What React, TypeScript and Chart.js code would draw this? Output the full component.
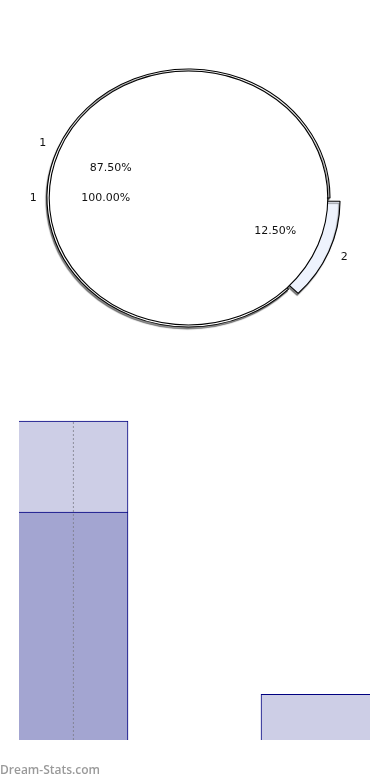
import React, { useEffect, useRef } from "react";
import { Chart, registerables } from "chart.js";

Chart.register(...registerables);

// ---- data ----
const outerLabels = ["1", "2"];
const outerValues = [7, 1];
const outerColors = ["#FFFFFF", "#EEF3FD"];
const innerLabels = ["1"];
const innerValues = [1];
const innerColors = ["#FFFFFF"];

const barPositions = [1, 2];
const darkValues = [5, 0];
const lightValues = [2, 1];
const guidePosition = 1.155;
const guideRange = [0, 7];

const OUTER_RADIUS = 129;
const INNER_RADIUS = 127;
const ELLIPSE_SX = 141.5 / 129;

function pct(v: number, all: number[]) {
  const t = all.reduce((a, b) => a + b, 0);
  return ((v / t) * 100).toFixed(2) + "%";
}

function stretchBegin(chart: any, shadow: boolean) {
  const ctx = chart.ctx;
  const a = chart.chartArea;
  const cx = (a.left + a.right) / 2;
  ctx.save();
  ctx.translate(cx, 0);
  ctx.scale(ELLIPSE_SX, 1);
  ctx.translate(-cx, 0);
  if (shadow) {
    ctx.shadowColor = "rgba(0,0,0,0.45)";
    ctx.shadowOffsetX = -1;
    ctx.shadowOffsetY = 2;
    ctx.shadowBlur = 1;
  }
}

function drawPieLabels(ctx: CanvasRenderingContext2D, chart: any, labels: string[], values: number[]) {
  const meta = chart.getDatasetMeta(0);
  meta.data.forEach((arc: any, i: number) => {
    const span = Math.min(arc.endAngle - arc.startAngle, 2 * Math.PI);
    const mid = arc.startAngle + span / 2;
    const shift = (arc.options.offset || 0) / 4;
    const radiusOffset = shift * (1 - Math.sin(Math.min(Math.PI, span)));
    const R = arc.outerRadius + radiusOffset;
    const dIn = 0.595 * R + shift;
    const dOut = 1.115 * R + shift;
    const c = Math.cos(mid);
    const s = Math.sin(mid);
    ctx.fillText(pct(values[i], values), arc.x + ELLIPSE_SX * c * dIn, arc.y + s * dIn);
    ctx.fillText(labels[i], arc.x + ELLIPSE_SX * c * dOut, arc.y + s * dOut);
  });
}

export default function App() {
  const pieBackRef = useRef<HTMLCanvasElement>(null);
  const pieFrontRef = useRef<HTMLCanvasElement>(null);
  const barRef = useRef<HTMLCanvasElement>(null);

  useEffect(() => {
    document.body.style.margin = "0";
    const layoutPadding = { left: 0, right: 13, top: 0, bottom: 4 };

    const back = new Chart(pieBackRef.current!, {
      type: "pie",
      data: {
        labels: outerLabels,
        datasets: [
          {
            data: outerValues,
            backgroundColor: outerColors,
            borderColor: "#000000",
            borderWidth: 1,
            offset: [0, 30],
            rotation: 135,
          },
        ],
      },
      options: {
        animation: false,
        responsive: true,
        maintainAspectRatio: false,
        radius: OUTER_RADIUS,
        layout: { padding: layoutPadding },
        plugins: { legend: { display: false }, tooltip: { enabled: false } },
        events: [],
      },
      plugins: [
        {
          id: "stretchBack",
          beforeDatasetsDraw(chart: any) {
            stretchBegin(chart, true);
          },
          afterDatasetsDraw(chart: any) {
            chart.ctx.restore();
          },
        },
      ],
    } as any);

    // a single full slice: dash the border so only its rim (not the radius seam) is stroked
    const rimLength = 2 * Math.PI * INNER_RADIUS + 0.5;

    const front = new Chart(pieFrontRef.current!, {
      type: "pie",
      data: {
        labels: innerLabels,
        datasets: [
          {
            data: innerValues,
            backgroundColor: innerColors,
            borderColor: "#000000",
            borderWidth: 1,
            borderDash: [rimLength, 5000],
            rotation: 90,
          },
        ],
      },
      options: {
        animation: false,
        responsive: true,
        maintainAspectRatio: false,
        radius: INNER_RADIUS,
        layout: { padding: layoutPadding },
        plugins: { legend: { display: false }, tooltip: { enabled: false } },
        events: [],
      },
      plugins: [
        {
          id: "stretchFront",
          beforeDatasetsDraw(chart: any) {
            stretchBegin(chart, false);
          },
          afterDatasetsDraw(chart: any) {
            chart.ctx.restore();
          },
          afterDraw(chart: any) {
            const ctx = chart.ctx;
            ctx.save();
            ctx.font = "11px 'DejaVu Sans'";
            ctx.fillStyle = "#111111";
            ctx.textAlign = "center";
            ctx.textBaseline = "middle";
            drawPieLabels(ctx, back, outerLabels, outerValues);
            drawPieLabels(ctx, chart, innerLabels, innerValues);
            ctx.restore();
          },
        },
      ],
    } as any);

    const toPoints = (vals: number[]) =>
      vals.map((v, i) => ({ x: barPositions[i], y: v === 0 ? null : v }));

    const bars = new Chart(barRef.current!, {
      type: "bar",
      data: {
        datasets: [
          {
            type: "line",
            data: guideRange.map((y) => ({ x: guidePosition, y })),
            borderColor: "rgba(120,120,130,0.75)",
            borderWidth: 1,
            borderDash: [2, 2],
            pointRadius: 0,
            stack: "guide",
            order: 0,
            clip: 0,
          },
          {
            data: toPoints(darkValues),
            backgroundColor: "#A3A5D1",
            borderColor: "#000080",
            borderWidth: 1,
            barThickness: 218,
            stack: "s",
            order: 1,
            clip: { left: 0, right: 0, top: 5, bottom: 0 },
          },
          {
            data: toPoints(lightValues),
            backgroundColor: "#CDCEE6",
            borderColor: "#000080",
            borderWidth: 1,
            barThickness: 218,
            stack: "s",
            order: 1,
            clip: { left: 0, right: 0, top: 5, bottom: 0 },
          },
        ],
      },
      options: {
        animation: false,
        responsive: true,
        maintainAspectRatio: false,
        layout: { padding: { left: 19, right: 20, top: 21, bottom: 20 } },
        scales: {
          x: { type: "linear", min: 1, max: 2, offset: false, display: false, stacked: true },
          y: { min: 0, max: 7, display: false, stacked: true },
        },
        plugins: { legend: { display: false }, tooltip: { enabled: false } },
        events: [],
      },
    } as any);

    return () => {
      front.destroy();
      back.destroy();
      bars.destroy();
    };
  }, []);

  return (
    <div style={{ position: "relative", width: 390, height: 780, background: "#fff", overflow: "hidden" }}>
      <div style={{ position: "absolute", left: 0, top: 0, width: 390, height: 400 }}>
        <canvas ref={pieBackRef} />
      </div>
      <div style={{ position: "absolute", left: 0, top: 0, width: 390, height: 400 }}>
        <canvas ref={pieFrontRef} />
      </div>
      <div style={{ position: "absolute", left: 0, top: 400, width: 390, height: 360 }}>
        <canvas ref={barRef} />
      </div>
      <div
        style={{
          position: "absolute",
          left: 0,
          top: 762,
          fontFamily: "'Open Sans', sans-serif",
          fontWeight: 600,
          fontSize: 12,
          lineHeight: "16px",
          color: "#9a9a9a",
          whiteSpace: "nowrap",
        }}
      >
        Dream-Stats.com
      </div>
    </div>
  );
}
